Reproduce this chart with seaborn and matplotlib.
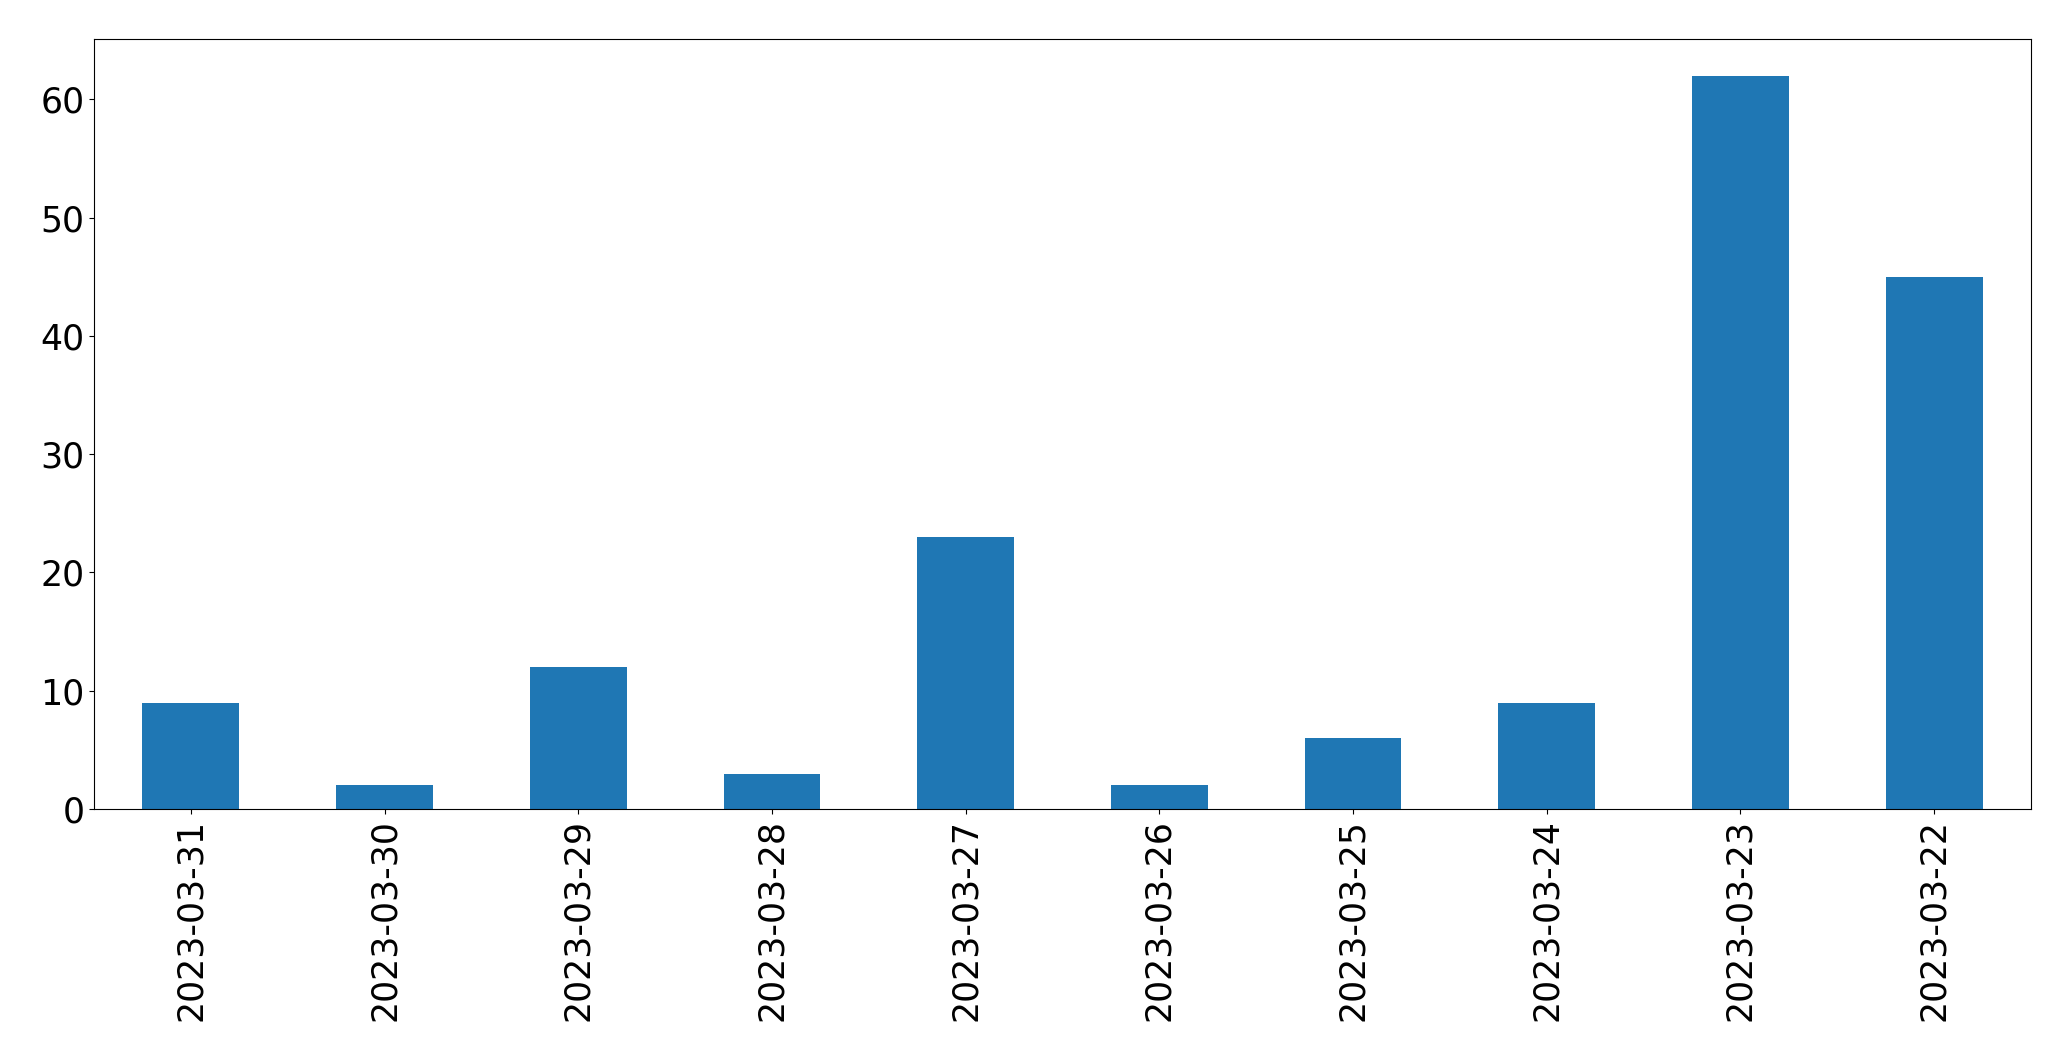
import pandas as pd
import seaborn as sns
import matplotlib.pyplot as plt

# Datos
fechas = ['2023-03-31', '2023-03-30', '2023-03-29', '2023-03-28', '2023-03-27',
          '2023-03-26', '2023-03-25', '2023-03-24', '2023-03-23', '2023-03-22']
conteos = [9, 2, 12, 3, 23, 2, 6, 9, 62, 45]

df = pd.DataFrame({'fecha': fechas, 'conteo': conteos})

fig, ax = plt.subplots(figsize=(20.71, 10.61), dpi=100)
fig.subplots_adjust(left=94 / 2071, right=2031 / 2071, top=1 - 39 / 1061, bottom=1 - 809 / 1061)

sns.barplot(data=df, x='fecha', y='conteo', color='#1f77b4', saturation=1,
            width=0.5, order=fechas, ax=ax)
ax.set_xlim(-0.5, len(fechas) - 0.5)
ax.set_ylim(0, max(conteos) * 1.05)
ax.set_xlabel('')
ax.set_ylabel('')
ax.tick_params(axis='x', labelsize=25, rotation=90)
ax.tick_params(axis='y', labelsize=25)

plt.savefig('out.png', dpi=100)
